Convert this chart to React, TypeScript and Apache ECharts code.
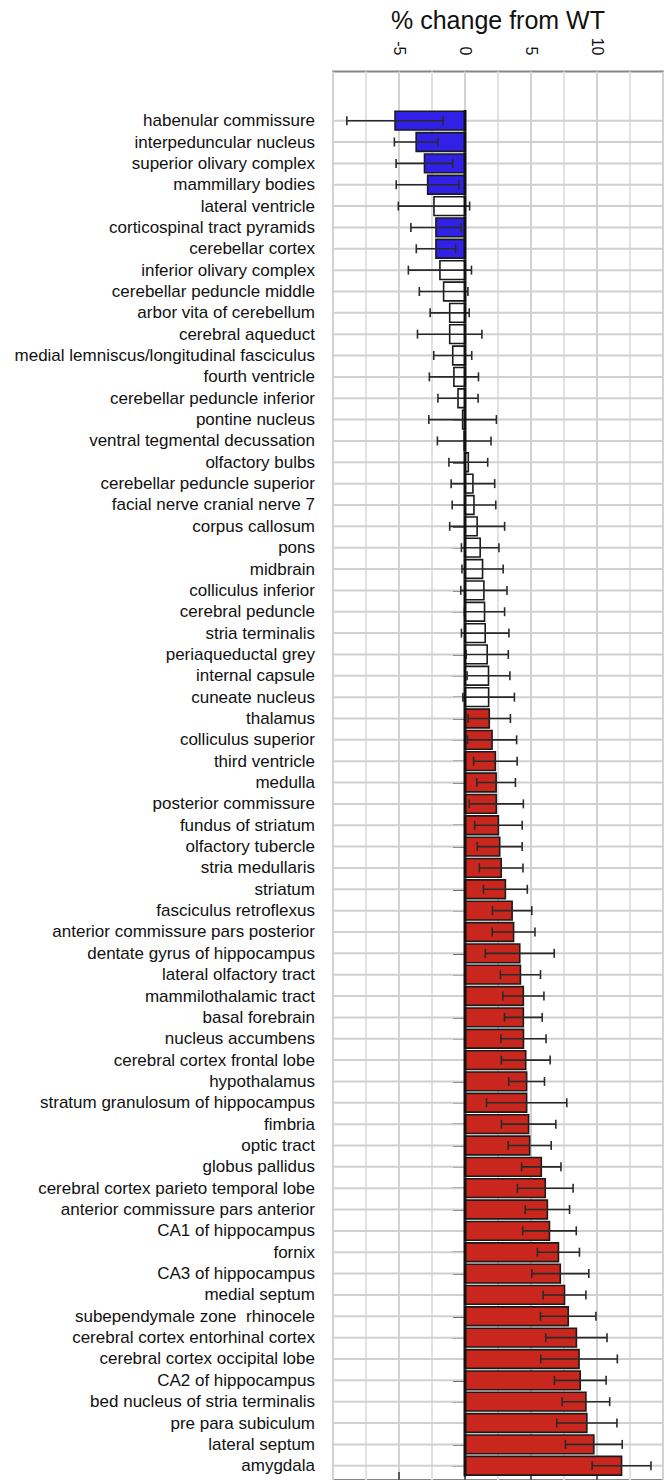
import React, { useEffect, useRef } from "react";
import * as echarts from "echarts";

const categories = [
  "habenular commissure",
  "interpeduncular nucleus",
  "superior olivary complex",
  "mammillary bodies",
  "lateral ventricle",
  "corticospinal tract pyramids",
  "cerebellar cortex",
  "inferior olivary complex",
  "cerebellar peduncle middle",
  "arbor vita of cerebellum",
  "cerebral aqueduct",
  "medial lemniscus/longitudinal fasciculus",
  "fourth ventricle",
  "cerebellar peduncle inferior",
  "pontine nucleus",
  "ventral tegmental decussation",
  "olfactory bulbs",
  "cerebellar peduncle superior",
  "facial nerve cranial nerve 7",
  "corpus callosum",
  "pons",
  "midbrain",
  "colliculus inferior",
  "cerebral peduncle",
  "stria terminalis",
  "periaqueductal grey",
  "internal capsule",
  "cuneate nucleus",
  "thalamus",
  "colliculus superior",
  "third ventricle",
  "medulla",
  "posterior commissure",
  "fundus of striatum",
  "olfactory tubercle",
  "stria medullaris",
  "striatum",
  "fasciculus retroflexus",
  "anterior commissure pars posterior",
  "dentate gyrus of hippocampus",
  "lateral olfactory tract",
  "mammilothalamic tract",
  "basal forebrain",
  "nucleus accumbens",
  "cerebral cortex frontal lobe",
  "hypothalamus",
  "stratum granulosum of hippocampus",
  "fimbria",
  "optic tract",
  "globus pallidus",
  "cerebral cortex parieto temporal lobe",
  "anterior commissure pars anterior",
  "CA1 of hippocampus",
  "fornix",
  "CA3 of hippocampus",
  "medial septum",
  "subependymale zone  rhinocele",
  "cerebral cortex entorhinal cortex",
  "cerebral cortex occipital lobe",
  "CA2 of hippocampus",
  "bed nucleus of stria terminalis",
  "pre para subiculum",
  "lateral septum",
  "amygdala",
];

const meanChange = [
  -5.3, -3.7, -3.07, -2.83, -2.35, -2.2, -2.2, -1.9, -1.62, -1.16, -1.16, -0.93,
  -0.84, -0.53, -0.18, -0.06, 0.25, 0.6, 0.68, 0.92, 1.15, 1.33, 1.43, 1.48,
  1.53, 1.68, 1.78, 1.79, 1.84, 2.05, 2.3, 2.36, 2.37, 2.53, 2.63, 2.74, 3.06,
  3.57, 3.68, 4.15, 4.2, 4.42, 4.42, 4.43, 4.6, 4.67, 4.67, 4.82, 4.9, 5.78,
  6.08, 6.24, 6.4, 7.08, 7.22, 7.54, 7.82, 8.44, 8.64, 8.73, 9.16, 9.23, 9.76,
  11.86,
];

const errorSD = [
  3.65, 1.65, 2.15, 2.38, 2.7, 1.9, 1.49, 2.39, 1.84, 1.48, 2.44, 1.44, 1.86,
  1.52, 2.56, 2.03, 1.47, 1.65, 1.65, 2.08, 1.42, 1.56, 1.75, 1.52, 1.8, 1.6,
  1.62, 1.95, 1.6, 1.86, 1.65, 1.46, 2.05, 1.8, 1.7, 1.65, 1.66, 1.49, 1.62,
  2.61, 1.52, 1.56, 1.43, 1.71, 1.85, 1.35, 3.04, 2.06, 1.63, 1.49, 2.11, 1.68,
  2.03, 1.59, 2.16, 1.62, 2.1, 2.32, 2.9, 1.96, 1.8, 2.28, 2.15, 2.23,
];

// "down" = significant decrease, "up" = significant increase, "ns" = not significant
const significance = [
  "down", "down", "down", "down", "ns", "down", "down", "ns", "ns", "ns", "ns",
  "ns", "ns", "ns", "ns", "ns", "ns", "ns", "ns", "ns", "ns", "ns", "ns", "ns",
  "ns", "ns", "ns", "ns", "up", "up", "up", "up", "up", "up", "up", "up", "up",
  "up", "up", "up", "up", "up", "up", "up", "up", "up", "up", "up", "up", "up",
  "up", "up", "up", "up", "up", "up", "up", "up", "up", "up", "up", "up", "up",
  "up",
];

const xTickLabels = [-5, 0, 5, 10];

const FONT = "'Liberation Sans', Arial, Helvetica, sans-serif";
const fillFor: Record<string, string> = {
  down: "#3121E6",
  up: "#C9271D",
  ns: "#FFFFFF",
};

export default function App() {
  const ref = useRef<HTMLDivElement>(null);

  useEffect(() => {
    if (!ref.current) return;
    const chart = echarts.init(ref.current, null, { renderer: "svg" });

    const rows = categories.map((c, i) => [meanChange[i], i, errorSD[i]]);

    const option: any = {
      animation: false,
      backgroundColor: "#ffffff",
      textStyle: { fontFamily: FONT },
      graphic: [
        {
          type: "text",
          x: 498,
          y: 20,
          style: {
            text: "% change from WT",
            font: `25px ${FONT}`,
            fill: "#111",
            textAlign: "center",
            textVerticalAlign: "middle",
          },
        },
      ],
      grid: [
        {
          left: 333,
          right: 4,
          top: 71.5,
          bottom: -20,
          show: true,
          borderColor: "#858585",
          borderWidth: 2,
          backgroundColor: "transparent",
        },
        {
          left: 333,
          right: 4,
          top: 110,
          height: 1366.4,
        },
      ],
      xAxis: [
        {
          gridIndex: 0,
          type: "value",
          position: "top",
          min: -10,
          max: 15,
          interval: 5,
          axisLine: { show: false },
          axisTick: {
            show: true,
            customValues: xTickLabels,
            length: 8,
            lineStyle: { color: "#333", width: 1.5 },
          },
          axisLabel: {
            show: true,
            customValues: xTickLabels,
            rotate: -90,
            fontSize: 16,
            color: "#111",
            margin: 16,
            fontFamily: FONT,
          },
          splitLine: { show: false },
        },
        {
          gridIndex: 1,
          type: "value",
          min: -10,
          max: 15,
          show: false,
        },
        {
          gridIndex: 0,
          type: "value",
          position: "bottom",
          min: -10,
          max: 15,
          interval: 2.5,
          axisLine: { show: false },
          axisTick: { show: false },
          axisLabel: { show: false },
          splitLine: {
            show: true,
            lineStyle: { color: ["#d2d2d2", "#e2e2e2"], width: 2 },
          },
        },
      ],
      yAxis: [
        {
          gridIndex: 0,
          type: "value",
          min: 0,
          max: 1,
          show: false,
          splitLine: { show: false },
        },
        {
          gridIndex: 1,
          type: "category",
          inverse: true,
          data: categories,
          axisLine: { show: false },
          axisTick: {
            show: true,
            alignWithLabel: true,
            length: 12,
            lineStyle: { color: "#111", width: 1.5 },
          },
          axisLabel: {
            interval: 0,
            fontSize: 17,
            color: "#111",
            margin: 18,
            fontFamily: FONT,
          },
          splitLine: { show: false },
        },
      ],
      series: [
        {
          type: "custom",
          name: "rows",
          xAxisIndex: 1,
          yAxisIndex: 1,
          silent: true,
          data: rows,
          renderItem: (params: any, api: any) => {
            const c = api.coord([0, api.value(1)]);
            const cs = params.coordSys;
            return {
              type: "line",
              shape: { x1: cs.x, y1: c[1], x2: cs.x + cs.width, y2: c[1] },
              style: { stroke: "#d0d0d0", lineWidth: 2 },
            };
          },
        },
        {
          type: "custom",
          name: "change",
          xAxisIndex: 1,
          yAxisIndex: 1,
          data: rows,
          renderItem: (params: any, api: any) => {
            const v = api.value(0);
            const idx = api.value(1);
            const e = api.value(2);
            const p0 = api.coord([0, idx]);
            const p1 = api.coord([v, idx]);
            const lo = api.coord([v - e, idx]);
            const hi = api.coord([v + e, idx]);
            const band = api.size([0, 1])[1];
            const h = band * 0.88;
            const cy = p0[1];
            const cap = 4.5;
            const sig = significance[idx];
            const x = Math.min(p0[0], p1[0]);
            const w = Math.abs(p1[0] - p0[0]);
            return {
              type: "group",
              children: [
                {
                  type: "rect",
                  shape: { x, y: cy - h / 2, width: w, height: h },
                  style: { fill: fillFor[sig], stroke: "#1a1a1a", lineWidth: 1.6 },
                },
                {
                  type: "line",
                  shape: { x1: lo[0], y1: cy, x2: hi[0], y2: cy },
                  style: { stroke: "#2a2a2a", lineWidth: 1.6 },
                },
                {
                  type: "line",
                  shape: { x1: lo[0], y1: cy - cap, x2: lo[0], y2: cy + cap },
                  style: { stroke: "#2a2a2a", lineWidth: 1.6 },
                },
                {
                  type: "line",
                  shape: { x1: hi[0], y1: cy - cap, x2: hi[0], y2: cy + cap },
                  style: { stroke: "#2a2a2a", lineWidth: 1.6 },
                },
                {
                  type: "line",
                  shape: { x1: p0[0], y1: cy - band / 2, x2: p0[0], y2: cy + band / 2 },
                  style: { stroke: "#111", lineWidth: 3 },
                },
              ],
            };
          },
        },
      ],
    };

    chart.setOption(option);
    return () => chart.dispose();
  }, []);

  return (
    <div
      ref={ref}
      style={{ position: "fixed", left: 0, top: 0, width: 667, height: 1480 }}
    />
  );
}
